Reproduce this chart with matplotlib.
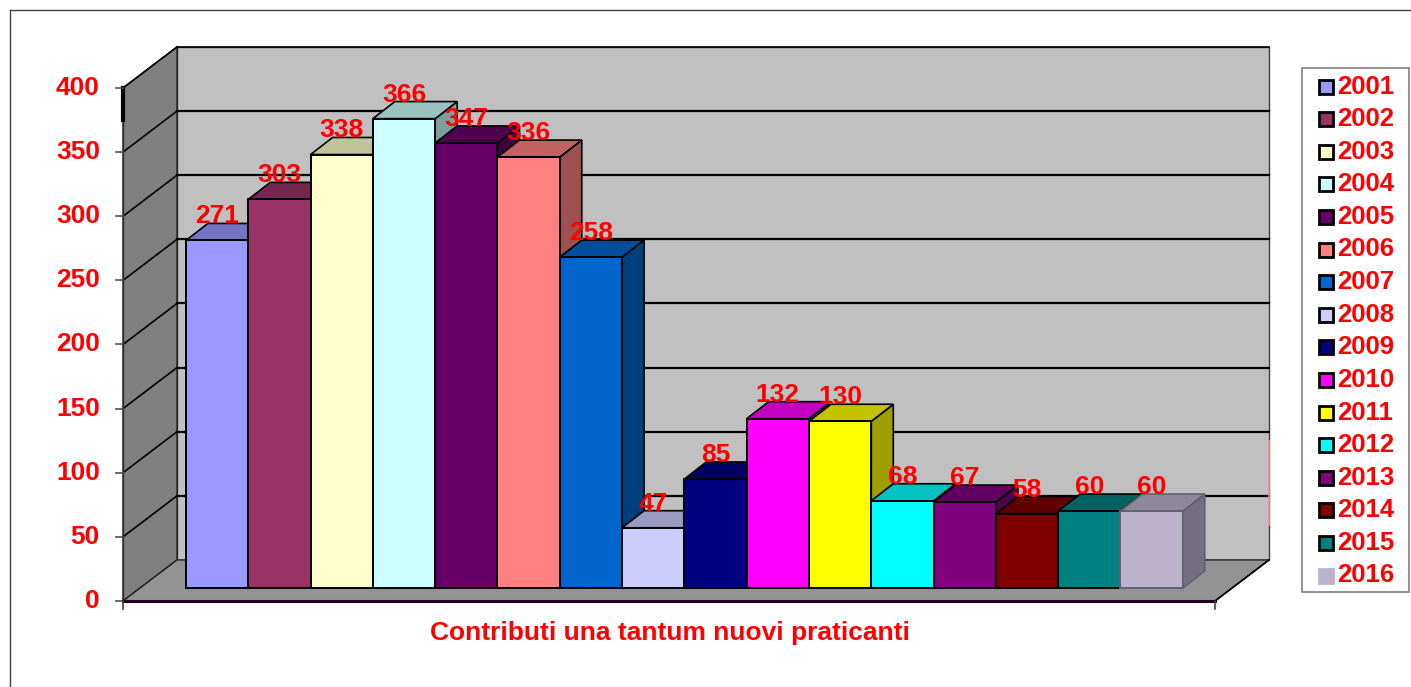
import numpy as np
import matplotlib
matplotlib.use("Agg")
import matplotlib.pyplot as plt
from matplotlib.patches import Polygon, Rectangle
from matplotlib.colors import to_rgb
from matplotlib.lines import Line2D

plt.rcParams['font.family'] = ['Liberation Sans', 'DejaVu Sans']

# dati del grafico
anni = ['2001', '2002', '2003', '2004', '2005', '2006', '2007', '2008',
        '2009', '2010', '2011', '2012', '2013', '2014', '2015', '2016']
valori = [271, 303, 338, 366, 347, 336, 258, 47, 85, 132, 130, 68, 67, 58, 60, 60]
colori = ['#9999FF', '#993366', '#FFFFCC', '#CCFFFF', '#660066', '#FF8080',
          '#0066CC', '#CCCCFF', '#000080', '#FF00FF', '#FFFF00', '#00FFFF',
          '#800080', '#800000', '#008080', '#BCB2CC']
yticks = [0, 50, 100, 150, 200, 250, 300, 350, 400]
titolo_x = 'Contributi una tantum nuovi praticanti'

W, H = 1411, 687
ROSSO = '#FF0000'
FS = 19

fig = plt.figure(figsize=(W / 100, H / 100), dpi=100)
ax = fig.add_axes([0, 0, 1, 1])
ax.set_xlim(-2.712, 19.936)
ax.set_ylim(-67.06, 468.6)
ax.axis('off')

# geometria pseudo-3D (in unita' dati)
fl, fr = -0.738, 16.79          # bordo anteriore del pavimento
dxw, dyw = 0.867, 32.0          # profondita' muro di fondo
dxb, dyb = 0.353, 13.3          # profondita' barre
ox, oy = 0.273, 10.1            # piano frontale delle barre
vmax = 400


def shade(c, k):
    r, g, b = to_rgb(c)
    return (r * k, g * k, b * k)


# muro di fondo
ax.add_patch(Polygon([(fl + dxw, dyw), (fr + dxw, dyw), (fr + dxw, vmax + dyw),
                      (fl + dxw, vmax + dyw)], closed=True, fc='#C0C0C0',
                     ec='#404040', lw=1.0, zorder=1))
# muro laterale
ax.add_patch(Polygon([(fl, 0), (fl, vmax), (fl + dxw, vmax + dyw), (fl + dxw, dyw)],
                     closed=True, fc='#808080', ec='#202020', lw=1.0, zorder=1))
# pavimento
ax.add_patch(Polygon([(fl, 0), (fr, 0), (fr + dxw, dyw), (fl + dxw, dyw)],
                     closed=True, fc='#939393', ec='#202020', lw=1.0, zorder=1))

# griglia
for v in yticks[1:-1]:
    ax.plot([fl + dxw, fr + dxw], [v + dyw, v + dyw], color='black', lw=1.6, zorder=2)
    ax.plot([fl, fl + dxw], [v, v + dyw], color='black', lw=1.2, zorder=2)
ax.plot([fl + dxw, fr + dxw], [vmax + dyw, vmax + dyw], color='black', lw=1.2, zorder=2)
ax.plot([fl, fl + dxw], [vmax, vmax + dyw], color='black', lw=1.2, zorder=2)

# linea rosata sul bordo destro
ax.plot([fr + dxw, fr + dxw], [59, 125], color='#FF9090', lw=1.2, zorder=2)

# barre (stesso zorder: disegnate nell'ordine di inserimento, da sinistra a destra)
for i, (val, col) in enumerate(zip(valori, colori)):
    x0 = i + ox
    x1 = x0 + 1
    y0 = oy
    y1 = oy + val
    ec = 'black' if i < len(valori) - 1 else '#606070'
    side = Polygon([(x1, y0), (x1 + dxb, y0 + dyb), (x1 + dxb, y1 + dyb), (x1, y1)],
                   closed=True, fc=shade(col, 0.62), ec=ec, lw=1.2, zorder=3)
    top = Polygon([(x0, y1), (x1, y1), (x1 + dxb, y1 + dyb), (x0 + dxb, y1 + dyb)],
                  closed=True, fc=shade(col, 0.76), ec=ec, lw=1.2, zorder=3)
    front = Rectangle((x0, y0), 1, val, fc=col, ec=ec, lw=1.4, zorder=3)
    for p in (side, top, front):
        ax.add_patch(p)
    ax.text(x0 + 0.5, y1 + dyb, str(val), ha='center', va='baseline',
            color=ROSSO, fontsize=FS, fontweight='bold', zorder=6)

# asse y
ax.plot([fl, fl], [0, vmax], color='#303030', lw=1.0, zorder=4)
ax.plot([fl, fl], [375, vmax], color='black', lw=3, zorder=4)
for v in yticks:
    ax.plot([fl - 0.11, fl], [v, v], color='#505050', lw=1.2, zorder=4)
    ax.text(fl - 0.37, v, str(v), ha='right', va='center', color=ROSSO,
            fontsize=FS, fontweight='bold', zorder=6)

# bordo anteriore del pavimento
ax.plot([fl, fr], [0, 0], color='#200020', lw=2.2, zorder=4)
ax.plot([fr, fr + dxw], [0, dyw], color='black', lw=1.2, zorder=4)
ax.plot([fl, fl], [0, -6], color='#404040', lw=1.2, zorder=4)
ax.plot([fr, fr], [0, -6], color='#404040', lw=1.2, zorder=4)

ax.text(8.04, -25, titolo_x, ha='center', va='center', color=ROSSO,
        fontsize=FS, fontweight='bold')


# legenda disegnata in pixel
def fx(px):
    return px / W


def fy(py):
    return 1 - py / H


fig.patches.append(Rectangle((fx(1302), fy(592)), fx(1409) - fx(1302), fy(68) - fy(592),
                             transform=fig.transFigure, fc='white', ec='#808080',
                             lw=1.2, zorder=5))
for k, (anno, col) in enumerate(zip(anni, colori)):
    yc = 86.5 + k * 32.6
    ec = 'black' if k < len(anni) - 1 else col
    fig.patches.append(Rectangle((fx(1319), fy(yc + 7)), fx(14), 14 / H,
                                 transform=fig.transFigure, fc=col, ec=ec,
                                 lw=2, zorder=6))
    fig.text(fx(1337), fy(yc), anno, ha='left', va='center', color=ROSSO,
             fontsize=18.5, fontweight='bold', zorder=7)

# cornice esterna
fig.add_artist(Line2D([fx(10), 1], [fy(10), fy(10)], color='#404040', lw=1,
                      transform=fig.transFigure))
fig.add_artist(Line2D([fx(10), fx(10)], [fy(10), 0], color='#404040', lw=1,
                      transform=fig.transFigure))

fig.savefig('out.png', dpi=100)
